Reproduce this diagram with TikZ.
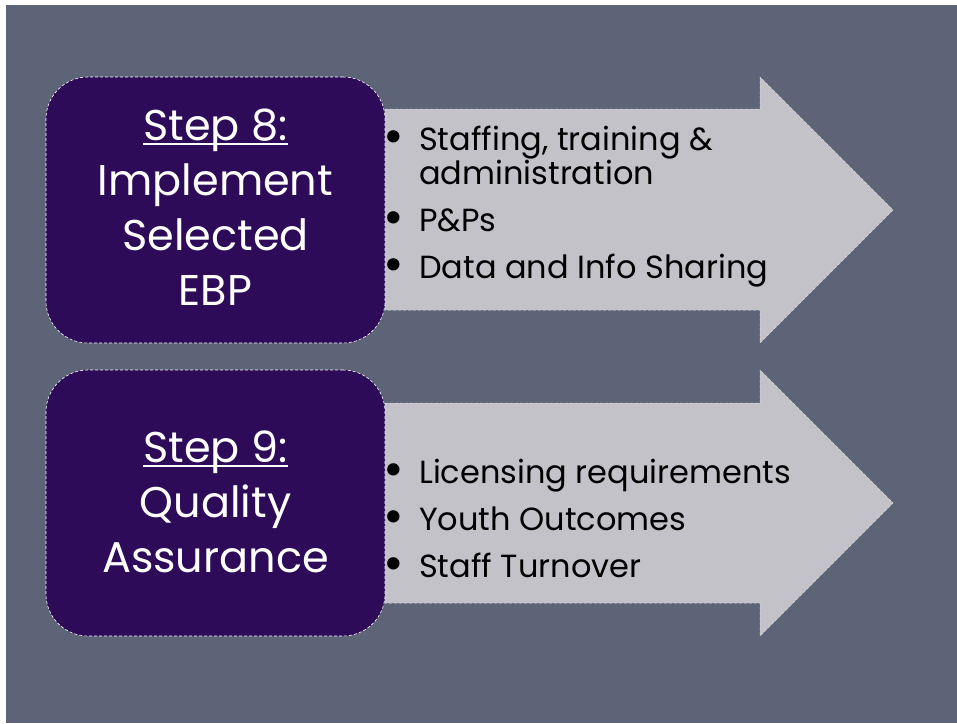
\documentclass[tikz,border=0pt]{standalone}
\usepackage{fontspec}
\setmainfont{Poppins}
\usetikzlibrary{positioning}

\definecolor{slidebg}{HTML}{5D6477}
\definecolor{steppurple}{HTML}{2D0B58}
\definecolor{arrowgray}{HTML}{C3C2C8}
\definecolor{arrowline}{HTML}{D8D8DC}

\newlength\steplen
\newcommand\stepul[1]{\settowidth\steplen{#1}\rlap{\rule[-5pt]{\steplen}{2pt}}#1}
\newcommand\itembullet{\llap{\raisebox{-3pt}{\fontsize{50}{50}\selectfont\textbullet}\hspace{15pt}}}

\tikzset{
  stepbox/.style={fill=steppurple,draw=white,densely dashed,line width=0.6pt,rounded corners=42pt,
    minimum width=339pt,minimum height=266pt,inner sep=0pt},
  steptext/.style={text=white,align=center,anchor=base,inner sep=0pt,font=\fontsize{43}{55}\selectfont},
  arrowshape/.style={fill=arrowgray,draw=arrowline,densely dashed,line width=0.5pt},
  itemtext/.style={text=black,align=left,anchor=base west,inner sep=0pt,font=\fontsize{32}{34}\selectfont},
}

\begin{document}
\begin{tikzpicture}[x=1pt,y=-1pt]
  \useasboundingbox (0,0) rectangle (957,723);
  \fill[white] (0,0) rectangle (957,723);
  \fill[slidebg] (6,5) rectangle (957,723);

  % step 8
  \draw[arrowshape] (385,109) -- (760,109) -- (760,77) -- (893,210) -- (760,343) -- (760,310) -- (385,310) -- cycle;
  \node[stepbox] (step8) at (215.5,210) {};
  \node[steptext] (step8text) at (215.5,305) {\stepul{Step 8:}\\Implement\\Selected\\EBP};
  \node[itemtext] (item8a) at (419,184) {\itembullet Staffing, training \&\\administration};
  \node[itemtext] (item8b) at (419,231) {\itembullet P\&Ps};
  \node[itemtext] (item8c) at (419,278) {\itembullet Data and Info Sharing};

  % step 9
  \draw[arrowshape] (385,403) -- (760,403) -- (760,370) -- (893,503) -- (760,636) -- (760,603) -- (385,603) -- cycle;
  \node[stepbox] (step9) at (215.5,503) {};
  \node[steptext] (step9text) at (215.5,572) {\stepul{Step 9:}\\Quality\\Assurance};
  \node[itemtext] (item9a) at (419,483) {\itembullet Licensing requirements};
  \node[itemtext] (item9b) at (419,530) {\itembullet Youth Outcomes};
  \node[itemtext] (item9c) at (419,577) {\itembullet Staff Turnover};
\end{tikzpicture}
\end{document}
